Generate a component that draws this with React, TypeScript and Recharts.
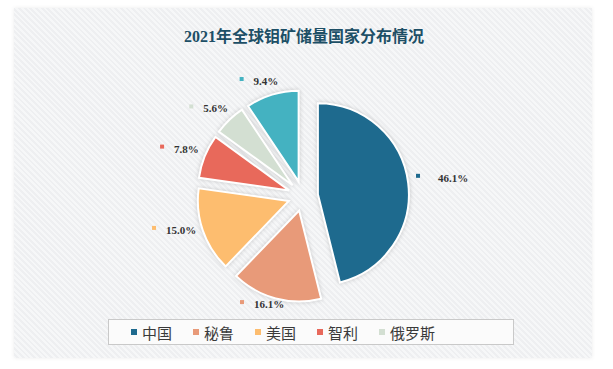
import React from "react";
import { PieChart, Pie, Sector, Legend } from "recharts";

const CATEGORIES = ["中国", "秘鲁", "美国", "智利", "俄罗斯", "其他"];
const SHARES = [46.1, 16.1, 15.0, 7.8, 5.6, 9.4];
const COLORS = ["#1e6a8e", "#e89a79", "#fdbd6f", "#e8695b", "#d3dfd2", "#44b2c1"];
// the original legend only lists the first five countries
const LEGEND_NAMES = CATEGORIES.slice(0, 5);

const data = CATEGORIES.map((name, i) => ({ name, value: SHARES[i] }));

const RAD = Math.PI / 180;
const EXPLODE = 15;

const renderSlice = (props: any) => {
  const { cx, cy, midAngle, outerRadius, startAngle, endAngle, index, value } = props;
  const cos = Math.cos(-midAngle * RAD);
  const sin = Math.sin(-midAngle * RAD);
  const color = COLORS[index];

  // label group: small marker + percent text, placed just outside the exploded arc
  const gap = index === 0 ? 18 : 10;
  const textW = value >= 10 ? 30 : 24;
  const w = 4 + gap + textW;
  const mx = cx + (outerRadius + EXPLODE) * cos;
  const my = cy + (outerRadius + EXPLODE) * sin;
  const centerX = mx + (cos * w) / 2 + Math.sign(cos) * 8;
  const centerY = my + sin * 10 - 4;
  const gx = centerX - w / 2;
  const gy = centerY;

  return (
    <g>
      <Sector
        cx={cx + EXPLODE * cos}
        cy={cy + EXPLODE * sin}
        innerRadius={0}
        outerRadius={outerRadius}
        startAngle={startAngle}
        endAngle={endAngle}
        fill={color}
        stroke="#ffffff"
        strokeWidth={2}
        style={{ filter: "drop-shadow(0px 0px 2px rgba(0,0,0,0.18))" }}
      />
      <rect x={gx} y={gy - 4} width={4} height={4} fill={color} />
      <text
        x={gx + 4 + gap}
        y={gy}
        dominantBaseline="central"
        fontFamily="'Liberation Serif', serif"
        fontWeight="bold"
        fontSize={11}
        fill="#333333"
      >
        {`${value.toFixed(1)}%`}
      </text>
    </g>
  );
};

const renderLegend = () => (
  <div
    style={{
      boxSizing: "border-box",
      width: "100%",
      height: "100%",
      border: "1px solid #c9c9c9",
      background: "#fbfbfb",
      display: "flex",
      alignItems: "center",
      paddingLeft: 22,
      gap: 21,
      fontFamily: "'Noto Sans CJK SC', sans-serif",
      fontSize: 15,
      color: "#3a3a3a",
    }}
  >
    {LEGEND_NAMES.map((name, i) => (
      <div key={name} style={{ display: "flex", alignItems: "center" }}>
        <span
          style={{
            display: "inline-block",
            width: 6,
            height: 6,
            background: COLORS[i],
            marginRight: 5,
          }}
        />
        <span>{name}</span>
      </div>
    ))}
  </div>
);

export default function App() {
  return (
    <div
      style={{
        position: "absolute",
        left: 0,
        top: 0,
        width: 613,
        height: 369,
        background: "#ffffff",
        overflow: "hidden",
      }}
    >
      <div
        style={{
          position: "absolute",
          left: 14,
          top: 8,
          width: 578,
          height: 350,
          background:
            "repeating-linear-gradient(45deg, #f6f7f8 0px, #f6f7f8 2px, #eeeff1 2px, #eeeff1 4px)",
          boxShadow: "0 0 4px rgba(0,0,0,0.08)",
        }}
      />
      <div
        style={{
          position: "absolute",
          left: 0,
          width: 608,
          top: 23,
          textAlign: "center",
          fontFamily: "'Liberation Serif', 'Noto Sans CJK SC', serif",
          fontWeight: "bold",
          fontSize: 16,
          color: "#1d4f66",
        }}
      >
        2021年全球钼矿储量国家分布情况
      </div>
      <div style={{ position: "absolute", left: 0, top: 0 }}>
        <PieChart width={613} height={369}>
          <Pie
            data={data}
            dataKey="value"
            nameKey="name"
            cx={298}
            cy={191}
            outerRadius={91}
            startAngle={90}
            endAngle={-270}
            fill="transparent"
            stroke="none"
            label={renderSlice}
            labelLine={false}
            isAnimationActive={false}
          />
          <Legend
            content={renderLegend}
            wrapperStyle={{ left: 108, top: 319, width: 406, height: 26 }}
          />
        </PieChart>
      </div>
    </div>
  );
}
